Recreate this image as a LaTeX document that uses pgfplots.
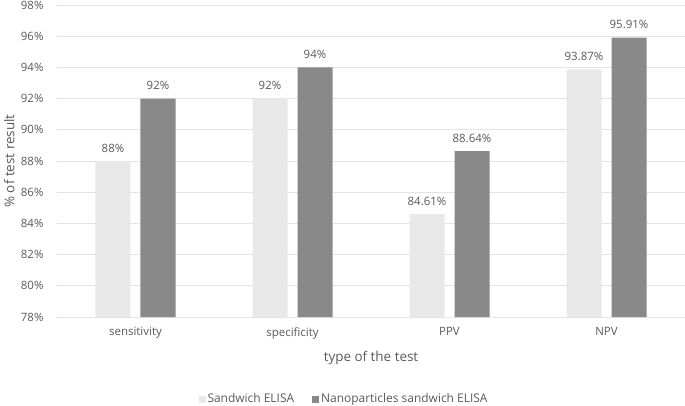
\documentclass[border=0pt]{standalone}
\usepackage{pgfplots}
\pgfplotsset{compat=1.18}
\usepackage{fontspec}
\setmainfont{Open Sans}
\definecolor{txt}{HTML}{595959}
\definecolor{gridc}{HTML}{E3E3E3}
\definecolor{lightbar}{HTML}{E8E8E8}
\definecolor{darkbar}{HTML}{898989}
\begin{document}
\begin{tikzpicture}[font=\fontsize{11.5}{13}\selectfont, text=txt]
\path[use as bounding box] (-57bp,-89bp) rectangle (628bp,317bp);
\begin{axis}[
  at={(0,0)}, anchor=south west,
  scale only axis, width=628bp, height=312bp,
  ybar=10bp, bar width=35bp,
  xmin=-0.5, xmax=3.5,
  ymin=78, ymax=98,
  ytick={78,80,...,98},
  yticklabel={\pgfmathprintnumber{\tick}\%},
  xtick=data,
  xticklabels={sensitivity,specificity,PPV,NPV},
  axis line style={draw=none},
  major tick length=0pt,
  ymajorgrids, xmajorgrids=false, grid style={draw=gridc, line width=0.8pt},
  /pgf/number format/assume math mode=true,
  ticklabel style={text=txt},
  xticklabel style={yshift=-7bp},
  yticklabel style={xshift=-10bp},
  xlabel={type of the test},
  ylabel={\% of test result},
  xlabel style={at={(axis description cs:0.5,-0.131)}, anchor=center, text=txt, font=\fontsize{13.5}{15}\selectfont},
  ylabel style={at={(axis description cs:-0.076,0.5)}, anchor=center, text=txt, font=\fontsize{13.5}{15}\selectfont},
  nodes near coords={\pgfmathprintnumber[fixed,precision=2]{\pgfplotspointmeta}\%},
  nodes near coords style={text=txt, yshift=5bp, /pgf/number format/assume math mode=true},
  legend style={at={(axis description cs:0.457,-0.263)}, anchor=center, draw=none, fill=none,
    font=\fontsize{12}{14}\selectfont,
    legend columns=2, /tikz/every even column/.append style={column sep=16bp}, text=txt},
  legend image code/.code={\fill[#1] (0bp,-3.5bp) rectangle (7bp,3.5bp);},
]
\addplot[fill=lightbar, draw=none] coordinates {(0,88) (1,92) (2,84.61) (3,93.87)};
\addplot[fill=darkbar, draw=none] coordinates {(0,92) (1,94) (2,88.64) (3,95.91)};
\legend{Sandwich ELISA, Nanoparticles sandwich ELISA}
\end{axis}
\end{tikzpicture}
\end{document}
